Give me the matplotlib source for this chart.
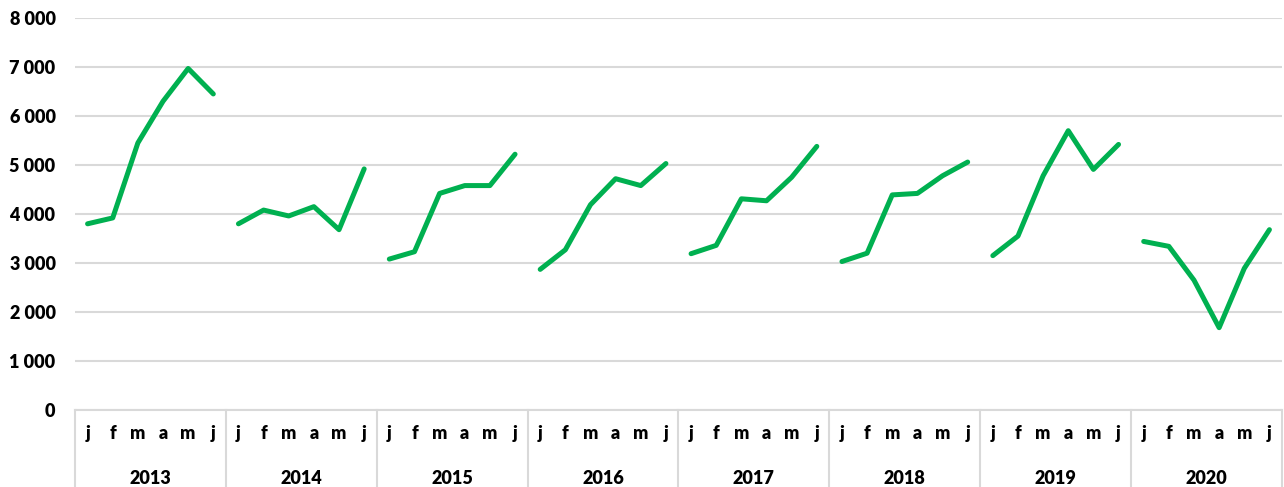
import matplotlib.pyplot as plt
import matplotlib.transforms as mtransforms
import numpy as np

plt.rcParams['font.family'] = ['Lato', 'DejaVu Sans']

years = ['2013', '2014', '2015', '2016', '2017', '2018', '2019', '2020']
months = ['j', 'f', 'm', 'a', 'm', 'j']

v2013 = [3800, 3920, 5450, 6300, 6970, 6450]
v2014 = [3800, 4080, 3960, 4150, 3680, 4920]
v2015 = [3080, 3230, 4420, 4580, 4580, 5220]
v2016 = [2870, 3270, 4190, 4720, 4580, 5030]
v2017 = [3190, 3360, 4310, 4270, 4750, 5380]
v2018 = [3030, 3200, 4390, 4420, 4780, 5060]
v2019 = [3150, 3550, 4780, 5700, 4910, 5420]
v2020 = [3440, 3340, 2650, 1680, 2890, 3680]
series = [v2013, v2014, v2015, v2016, v2017, v2018, v2019, v2020]

green = '#00b050'
grid_col = '#d9d9d9'

fig = plt.figure(figsize=(12.84, 4.87), dpi=100)
ax = fig.add_axes([75 / 1284, 77 / 487, 1207 / 1284, 392 / 487])

n = len(months)
for g, vals in enumerate(series):
    x = np.arange(n) + g * n
    ax.plot(x, vals, color=green, lw=3.6, solid_capstyle='round', solid_joinstyle='round', zorder=3)

ax.set_xlim(-0.5, len(years) * n - 0.5)
ax.set_ylim(0, 8000)
ax.set_yticks(np.arange(0, 8001, 1000))
ax.set_yticklabels([f'{int(v):,}'.replace(',', ' ') for v in np.arange(0, 8001, 1000)],
                   fontsize=13, fontweight='heavy')
ax.yaxis.grid(True, color=grid_col, lw=1.5)
ax.set_axisbelow(True)
ax.tick_params(axis='y', length=0, pad=14)

ax.set_xticks(np.arange(len(years) * n))
ax.set_xticklabels(months * len(years), fontsize=13, fontweight='heavy')
ax.tick_params(axis='x', length=0, pad=11)

for s in ['top', 'right', 'left']:
    ax.spines[s].set_visible(False)
ax.spines['bottom'].set_color(grid_col)
ax.spines['bottom'].set_linewidth(1.5)

trans = mtransforms.blended_transform_factory(ax.transData, ax.transAxes)
bottom = -77 / 392
for g in range(len(years) + 1):
    xb = g * n - 0.5
    ax.plot([xb, xb], [0, bottom], color=grid_col, lw=1.5, transform=trans, clip_on=False)
for g, yr in enumerate(years):
    ax.text(g * n + (n - 1) / 2, -68 / 392, yr, transform=trans, ha='center', va='center',
            fontsize=13, fontweight='heavy')

fig.savefig('out.png', dpi=100)
